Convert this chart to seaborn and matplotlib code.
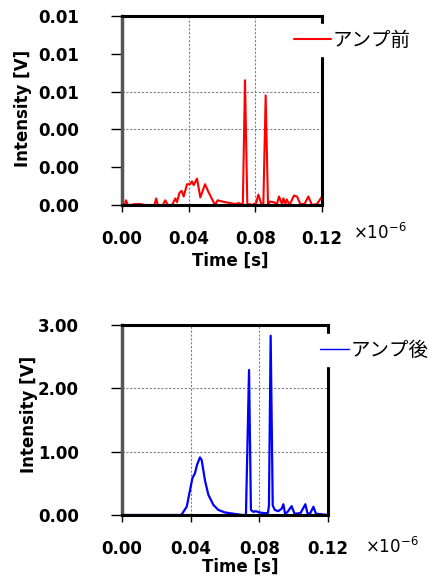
import numpy as np
import pandas as pd
import matplotlib
matplotlib.use("Agg")
import matplotlib.pyplot as plt
import seaborn as sns
from matplotlib.ticker import FormatStrFormatter

# time axis in units of 1e-6 s
t_before = [0.000, 0.0015, 0.0024, 0.0035, 0.005, 0.008, 0.011, 0.014, 0.018, 0.0195,
            0.0205, 0.0215, 0.0245, 0.026, 0.0275, 0.030, 0.032, 0.033, 0.0345, 0.0358,
            0.037, 0.039, 0.0408, 0.042, 0.043, 0.045, 0.047, 0.0498, 0.0518, 0.0538,
            0.0558, 0.0574, 0.0594, 0.062, 0.065, 0.068, 0.070, 0.0715, 0.0725, 0.0738,
            0.0752, 0.0765, 0.078, 0.0805, 0.0818, 0.0838, 0.0848, 0.0862, 0.0876, 0.0888,
            0.091, 0.093, 0.0942, 0.096, 0.0968, 0.098, 0.0988, 0.1005, 0.1032, 0.105,
            0.107, 0.1095, 0.1118, 0.114, 0.117, 0.120]
# intensity before amp, mV
v_before_mv = [0.05, 0.0, 0.25, 0.0, 0.0, 0.05, 0.05, 0.0, 0.0, 0.0,
               0.35, 0.0, 0.0, 0.25, 0.0, 0.0, 0.35, 0.15, 0.65, 0.75,
               0.45, 1.1, 1.1, 1.25, 1.05, 1.4, 0.4, 1.1, 0.7, 0.35,
               0.0, 0.25, 0.2, 0.15, 0.1, 0.05, 0.1, 0.05, 0.0, 6.6,
               0.0, 0.05, 0.0, 0.1, 0.55, 0.0, 0.0, 5.8, 0.0, 0.18,
               0.15, 0.05, 0.45, 0.05, 0.35, 0.05, 0.3, 0.0, 0.5, 0.45,
               0.05, 0.05, 0.45, 0.0, 0.05, 0.45]

t_after = [0.000, 0.034, 0.0348, 0.0377, 0.0396, 0.041, 0.0425, 0.0437, 0.0454, 0.0464,
           0.0483, 0.0503, 0.0532, 0.0561, 0.060, 0.065, 0.070, 0.0722, 0.074, 0.0751,
           0.0765, 0.078, 0.080, 0.083, 0.085, 0.0856, 0.0866, 0.0878, 0.089, 0.091,
           0.093, 0.094, 0.095, 0.0965, 0.0988, 0.1005, 0.104, 0.1068, 0.108, 0.1095,
           0.1115, 0.113, 0.120]
v_after = [0.0, 0.0, 0.01, 0.13, 0.39, 0.58, 0.66, 0.79, 0.91, 0.87,
           0.55, 0.32, 0.16, 0.08, 0.04, 0.02, 0.0, 0.0, 2.29, 0.08,
           0.05, 0.06, 0.04, 0.03, 0.03, 0.15, 2.83, 0.15, 0.08, 0.06,
           0.1, 0.17, 0.02, 0.05, 0.14, 0.02, 0.03, 0.17, 0.03, 0.02,
           0.13, 0.02, 0.0]

x_ticks = [0.00, 0.04, 0.08, 0.12]
y_ticks_before = [0.000, 0.002, 0.004, 0.006, 0.008, 0.010]
y_ticks_after = [0.0, 1.0, 2.0, 3.0]
grid_y_before = [0.004, 0.006]
grid_y_after = [1.0, 2.0]

df_before = pd.DataFrame({"t": t_before, "v": np.array(v_before_mv) / 1000})
df_after = pd.DataFrame({"t": t_after, "v": v_after})

sns.set_theme(style="white")
plt.rcParams["font.family"] = ["DejaVu Sans", "Noto Sans CJK JP"]
plt.rcParams["mathtext.fontset"] = "dejavusans"
plt.rcParams["text.color"] = "black"
plt.rcParams["axes.labelcolor"] = "black"

fig = plt.figure(figsize=(4.29, 5.84), dpi=100)
ax1 = fig.add_axes([122 / 429, 1 - 205 / 584, 200 / 429, 189 / 584])
ax2 = fig.add_axes([122 / 429, 1 - 515 / 584, 206 / 429, 190 / 584])

sns.lineplot(data=df_before, x="t", y="v", ax=ax1, color="#ff0000", lw=1.5,
             label="アンプ前", estimator=None)
sns.lineplot(data=df_after, x="t", y="v", ax=ax2, color="#0000ff", lw=1.6,
             label="アンプ後", estimator=None)

jp = {"family": ["Noto Sans CJK JP", "DejaVu Sans"], "size": 14}


def style_axis(ax, yticks, grid_y, ylim, ylabel_x, ylabel_y, xlabel_x, xlabel_y):
    ax.set_xlim(0, 0.12)
    ax.set_ylim(*ylim)
    ax.set_xticks(x_ticks)
    ax.set_yticks(yticks)
    ax.xaxis.set_major_formatter(FormatStrFormatter("%.2f"))
    ax.yaxis.set_major_formatter(FormatStrFormatter("%.2f"))
    ax.tick_params(axis="x", direction="out", length=5, width=1, pad=13,
                   bottom=True, labelsize=12, colors="black")
    ax.tick_params(axis="y", direction="out", length=8, width=1, pad=23,
                   left=True, labelsize=12, colors="black")
    for lab in ax.get_xticklabels() + ax.get_yticklabels():
        lab.set_fontweight("bold")
    for xv in x_ticks[1:-1]:
        ax.axvline(xv, color="#808080", lw=0.8, ls=(0, (2, 1.5)), zorder=0)
    for yv in grid_y:
        ax.axhline(yv, color="#808080", lw=0.8, ls=(0, (2, 1.5)), zorder=0)
    ax.spines["left"].set_color("#555555")
    ax.spines["left"].set_linewidth(2.5)
    for s in ["top", "right", "bottom"]:
        ax.spines[s].set_color("black")
        ax.spines[s].set_linewidth(2.2)
    ax.set_xlabel("Time [s]", fontsize=12, fontweight="bold", color="black")
    ax.set_ylabel("Intensity [V]", fontsize=12, fontweight="bold", color="black")
    ax.xaxis.set_label_coords(xlabel_x, xlabel_y)
    ax.yaxis.set_label_coords(ylabel_x, ylabel_y)


style_axis(ax1, y_ticks_before, grid_y_before, (0, 0.010), -0.45, 0.513, 0.54, -0.25)
style_axis(ax2, y_ticks_after, grid_y_after, (0, 3.0), -0.408, 0.53, 0.573, -0.225)

leg1 = ax1.legend(loc="center left", bbox_to_anchor=(0.83, 0.873), frameon=True,
                  prop=jp, handlelength=1.9, handletextpad=0.1, borderpad=0.3,
                  borderaxespad=0)
leg2 = ax2.legend(loc="center left", bbox_to_anchor=(0.935, 0.868), frameon=True,
                  prop=jp, handlelength=1.45, handletextpad=0.1, borderpad=0.3,
                  borderaxespad=0)
for leg in (leg1, leg2):
    leg.get_frame().set_facecolor("white")
    leg.get_frame().set_edgecolor("white")
    leg.get_frame().set_alpha(1)
    leg.get_frame().set_boxstyle("square", pad=0)
leg1.get_lines()[0].set_linewidth(1.5)
leg2.get_lines()[0].set_linewidth(1.0)

fig.text(353 / 429, 1 - 233 / 584, r"$\times10^{-6}$", fontsize=12, va="center", ha="left")
fig.text(365 / 429, 1 - 547 / 584, r"$\times10^{-6}$", fontsize=12, va="center", ha="left")

fig.savefig("out.png", dpi=100)
